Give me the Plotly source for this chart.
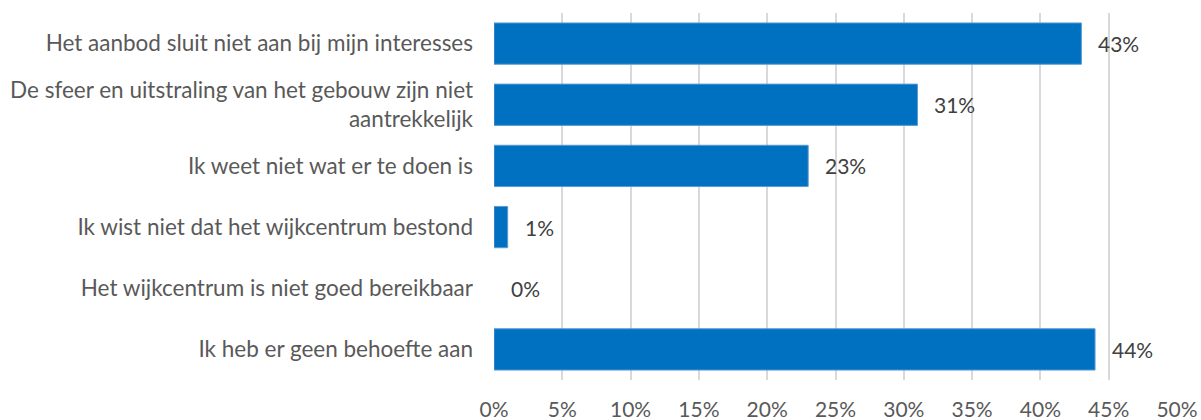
import plotly.graph_objects as go

categories = [
    "Het aanbod sluit niet aan bij mijn interesses",
    "De sfeer en uitstraling van het gebouw zijn niet<br>aantrekkelijk",
    "Ik weet niet wat er te doen is",
    "Ik wist niet dat het wijkcentrum bestond",
    "Het wijkcentrum is niet goed bereikbaar",
    "Ik heb er geen behoefte aan",
]
values = [43, 31, 23, 1, 0, 44]
tick_vals = [0, 5, 10, 15, 20, 25, 30, 35, 40, 45, 50]
tick_text = [f"{v}%" for v in tick_vals]

FONT = "Lato"
GREY = "#595959"

fig = go.Figure(go.Bar(
    x=values,
    y=categories,
    orientation="h",
    marker=dict(color="#0070C0",
                line=dict(color="#5B9BD5", width=[1 if v > 0 else 0 for v in values])),
    hoverinfo="skip",
))

for cat, v in zip(categories, values):
    fig.add_annotation(
        x=v, y=cat, xref="x", yref="y",
        text=f"{v}%", showarrow=False,
        xanchor="left", xshift=15,
        font=dict(family=FONT, size=21, color="#404040"),
    )

fig.update_layout(
    width=1201, height=420,
    margin=dict(l=494, r=24, t=13, b=40, autoexpand=False),
    paper_bgcolor="white", plot_bgcolor="white",
    bargap=0.325,
    showlegend=False,
    font=dict(family=FONT, size=21, color=GREY),
)
fig.update_xaxes(
    range=[0, 50], tickvals=tick_vals, ticktext=tick_text,
    showgrid=True, gridcolor="#D9D9D9", gridwidth=1.5,
    zeroline=False, showline=False, ticks="",
    automargin=False,
    ticklabelstandoff=15,
    tickfont=dict(family=FONT, size=21, color=GREY),
)
fig.update_yaxes(
    categoryorder="array", categoryarray=categories, autorange="reversed",
    showgrid=False, zeroline=False, showline=False, ticks="",
    automargin=False,
    ticklabelstandoff=20,
    tickfont=dict(family=FONT, size=22.5, color=GREY),
)

fig.write_html(
    "out.html",
    config={"displayModeBar": False},
    post_script="document.body.style.margin='0';document.body.style.overflow='hidden';",
)
